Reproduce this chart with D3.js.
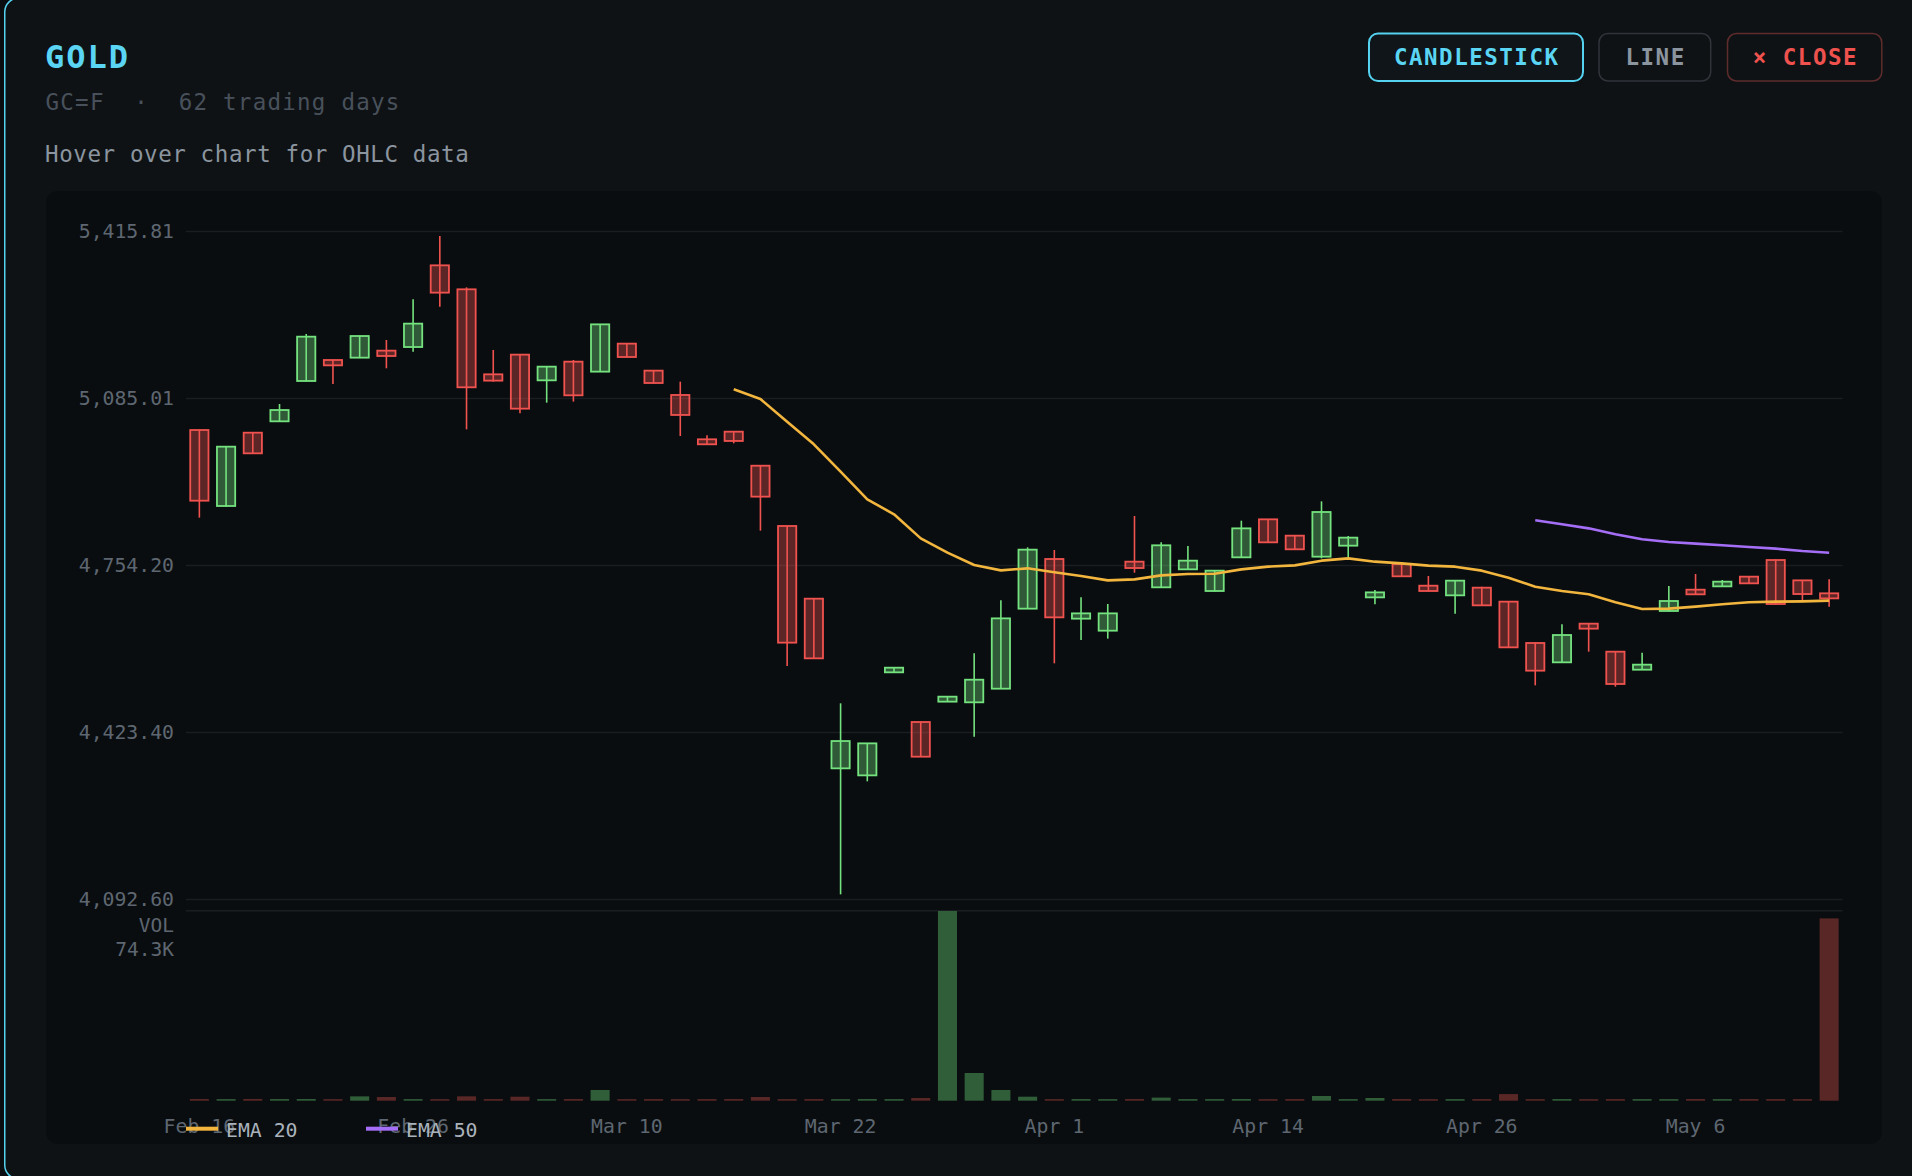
<!DOCTYPE html>
<html><head><meta charset="utf-8">
<script src="https://cdn.jsdelivr.net/npm/d3@7"></script>
<style>
html,body{margin:0;padding:0;background:#0b0e11;overflow:hidden}
svg{display:block}
text{font-family:"DejaVu Sans Mono",monospace;white-space:pre}
</style>
</head><body>
<svg id="c" width="1912" height="1176"></svg>
<script>
// ---------- DATA ----------
const dates = ["Feb 16","Feb 17","Feb 18","Feb 19","Feb 20","Feb 23","Feb 24","Feb 25","Feb 26","Feb 27",
  "Mar 2","Mar 3","Mar 4","Mar 5","Mar 6","Mar 9","Mar 10","Mar 11","Mar 12","Mar 13",
  "Mar 16","Mar 17","Mar 18","Mar 20","Mar 22","Mar 23","Mar 24","Mar 25","Mar 26","Mar 27",
  "Mar 30","Mar 31","Apr 1","Apr 2","Apr 6","Apr 7","Apr 8","Apr 9","Apr 10","Apr 13",
  "Apr 14","Apr 15","Apr 16","Apr 17","Apr 20","Apr 21","Apr 22","Apr 24","Apr 26","Apr 27",
  "Apr 28","Apr 29","Apr 30","May 1","May 4","May 5","May 6","May 7","May 8","May 11",
  "May 12","May 13"];
const open  = [5021.6,4871.1,5016.3,5038.8,5118.7,5160.3,5164.9,5178.8,5186.0,5347.8,
  5300.3,5131.9,5170.9,5120.0,5157.0,5137.2,5192.7,5139.2,5091.0,5003.2,
  5018.3,4950.9,4831.5,4687.5,4351.4,4337.5,4541.6,4443.2,4483.5,4482.2,
  4509.2,4667.7,4766.1,4647.9,4624.1,4760.8,4710.0,4745.6,4702.7,4769.4,
  4844.7,4812.3,4770.7,4792.5,4690.1,4756.2,4713.2,4694.1,4709.3,4681.6,
  4599.7,4561.4,4638.0,4582.5,4546.8,4663.1,4705.3,4711.9,4731.1,4764.1,
  4723.8,4698.1];
const high  = [5022.5,4989.5,5017.0,5073.1,5211.8,5161.0,5208.5,5199.9,5280.5,5405.9,
  5304.2,5180.1,5172.0,5147.8,5160.3,5231.6,5193.4,5139.9,5117.4,5011.1,
  5019.0,4951.6,4832.2,4688.2,4480.2,4401.6,4551.5,4443.9,4494.1,4579.2,
  4684.2,4789.2,4783.9,4690.1,4676.9,4851.3,4799.1,4791.9,4743.7,4842.0,
  4845.4,4813.0,4880.3,4811.6,4704.7,4756.9,4732.4,4723.9,4711.3,4682.3,
  4601.0,4636.6,4638.7,4583.2,4580.5,4712.6,4736.4,4724.5,4731.8,4765.4,
  4724.5,4725.8];
const low   = [4848.0,4869.8,4975.0,5038.0,5118.0,5112.8,5164.0,5143.8,5176.8,5265.9,
  5022.9,5117.4,5054.6,5075.8,5077.8,5136.5,5165.5,5114.0,5009.8,4992.6,
  4995.2,4822.2,4554.1,4568.6,4101.8,4325.7,4540.9,4373.8,4482.8,4414.2,
  4508.5,4667.0,4559.4,4605.6,4608.3,4739.0,4709.3,4744.9,4702.0,4768.7,
  4798.4,4784.6,4767.4,4769.4,4676.3,4731.1,4702.0,4657.8,4673.6,4590.4,
  4515.8,4560.7,4582.5,4513.2,4546.1,4662.4,4695.4,4711.2,4717.2,4676.2,
  4682.9,4671.6];
const close = [4881.6,4988.6,4975.4,5061.2,5206.5,5149.7,5207.8,5168.2,5232.3,5293.7,
  5106.2,5119.4,5063.9,5147.1,5090.3,5230.9,5166.2,5114.7,5051.4,4993.3,
  4999.9,4889.6,4600.4,4569.3,4405.5,4400.9,4550.8,4374.5,4493.4,4527.0,
  4648.5,4784.6,4650.5,4658.4,4658.4,4748.2,4793.2,4762.8,4743.0,4826.8,
  4799.1,4785.3,4859.2,4808.4,4700.0,4731.8,4702.7,4723.2,4674.3,4591.1,
  4544.9,4615.5,4628.1,4518.5,4556.8,4682.9,4696.1,4721.2,4717.9,4676.9,
  4696.7,4688.1];
const volume = [650,620,680,640,660,610,1700,1450,630,600,
  1700,640,1570,620,650,4200,610,640,600,630,
  650,1450,620,640,600,660,630,1060,74300,10850,
  4200,1570,620,640,610,650,1200,630,620,660,
  600,640,1840,620,1060,650,610,630,640,2600,
  620,650,600,640,630,610,660,620,650,630,
  640,71400];
const ema20 = [null,null,null,null,null,null,null,null,null,null,
  null,null,null,null,null,null,null,null,null,null,
  5102.2,5083.0,5038.1,4993.2,4939.1,4884.3,4854.6,4807.0,4778.6,4754.2,
  4743.6,4747.6,4739.7,4732.4,4723.8,4725.8,4733.7,4736.4,4737.0,4745.6,
  4750.9,4753.5,4762.8,4767.4,4760.8,4757.5,4752.9,4750.9,4743.0,4729.1,
  4711.3,4702.7,4696.1,4680.3,4667.0,4667.7,4671.7,4676.3,4680.3,4681.6,
  4682.2,4683.6];
const ema50 = [null,null,null,null,null,null,null,null,null,null,
  null,null,null,null,null,null,null,null,null,null,
  null,null,null,null,null,null,null,null,null,null,
  null,null,null,null,null,null,null,null,null,null,
  null,null,null,null,null,null,null,null,null,null,
  4842.7,4834.8,4826.8,4815.0,4805.1,4799.8,4796.5,4793.2,4789.9,4786.6,
  4782.0,4778.6];
const priceTicks = [4092.60, 4423.40, 4754.20, 5085.01, 5415.81];
const xTickLabels = ["Feb 16","Feb 26","Mar 10","Mar 22","Apr 1","Apr 14","Apr 26","May 6"];
const legendItems = [{name:"EMA 20", color:"#f2b63f"},{name:"EMA 50", color:"#a56ef7"}];

// ---------- STYLE ----------
const C = {
  card:"#0f1215", cardBorder:"#55d2ef", panel:"#0a0d0f", grid:"#1a1e22",
  axis:"#5e6771", up:"#74e27f", down:"#f0534f",
  upFill:"rgba(116,226,127,0.36)", downFill:"rgba(240,83,79,0.36)",
  upVol:"#2f5e39", downVol:"#5a2727"
};
const svg = d3.select("#c");

// card + panel
svg.append("rect").attr("x",4.75).attr("y",-2).attr("width",1940).attr("height",1181)
  .attr("rx",14).attr("fill",C.card).attr("stroke",C.cardBorder).attr("stroke-width",1.5);
svg.append("rect").attr("x",46).attr("y",191).attr("width",1836).attr("height",953)
  .attr("rx",12).attr("fill",C.panel);

// header
svg.append("text").attr("x",45).attr("y",68.3).text("GOLD")
  .attr("font-size",32).attr("font-weight","bold").attr("letter-spacing",2).attr("fill","#5ad5f3");
svg.append("text").attr("x",45.5).attr("y",110).attr("xml:space","preserve")
  .text("GC=F  ·  " + dates.length + " trading days")
  .attr("font-size",22.5).attr("letter-spacing",1.25).attr("fill","#48515b");
svg.append("text").attr("x",45).attr("y",162.3).text("Hover over chart for OHLC data")
  .attr("font-size",22.5).attr("letter-spacing",0.6).attr("fill","#8b959f");

// buttons
const buttons = [
  {label:"CANDLESTICK", x:1369, w:214, stroke:"#55d2ef", sw:2, color:"#5ad5f3", fill:"#0f1518"},
  {label:"LINE", x:1599, w:111.7, stroke:"#30353b", sw:1.5, color:"#8b959f", fill:"#0f1215"},
  {label:"× CLOSE", x:1727.5, w:154.3, stroke:"#5e2c2c", sw:1.5, color:"#ef524e", fill:"#0f1215"}
];
const bg = svg.append("g").selectAll("g").data(buttons).join("g");
bg.append("rect").attr("x",d=>d.x).attr("y",33.5).attr("width",d=>d.w).attr("height",47.5)
  .attr("rx",9).attr("fill",d=>d.fill).attr("stroke",d=>d.stroke).attr("stroke-width",d=>d.sw);
bg.append("text").attr("x",d=>d.x+d.w/2+0.75).attr("y",65).attr("text-anchor","middle")
  .attr("font-size",22.5).attr("font-weight","bold").attr("letter-spacing",1.5)
  .attr("fill",d=>d.color).text(d=>d.label);

// scales
const x0 = 186, x1 = 1842.5;
const x = d3.scaleBand().domain(dates).range([x0,x1]).paddingInner(0.25).paddingOuter(0.125);
const y = d3.scaleLinear().domain([priceTicks[0], priceTicks[priceTicks.length-1]]).range([899,231]);
const yv = d3.scaleLinear().domain([0, d3.max(volume)]).range([1100.7, 911]);

// y axis with grid
const ya = svg.append("g").attr("transform",`translate(${x0},0)`)
  .call(d3.axisLeft(y).tickValues(priceTicks).tickFormat(d3.format(",.2f")).tickSize(-(x1-x0)).tickPadding(12));
ya.select(".domain").remove();
ya.selectAll(".tick line").attr("stroke",C.grid).attr("stroke-width",1.5);
ya.selectAll(".tick text").attr("fill",C.axis).attr("font-size",19.8)
  .attr("font-family","DejaVu Sans Mono").attr("dy","0.33em");

// volume separator
svg.append("line").attr("x1",x0).attr("x2",x1).attr("y1",910.7).attr("y2",910.7)
  .attr("stroke",C.grid).attr("stroke-width",1.5);

// x axis
const xa = svg.append("g").attr("transform","translate(0,1110)")
  .call(d3.axisBottom(x).tickValues(xTickLabels).tickSize(0).tickPadding(0));
xa.select(".domain").remove();
xa.selectAll(".tick text").attr("fill",C.axis).attr("font-size",19.8)
  .attr("font-family","DejaVu Sans Mono").attr("y",23.3).attr("dy",null);

// volume labels
svg.append("text").attr("x",174).attr("y",931.7).attr("text-anchor","end").text("VOL")
  .attr("font-size",19.5).attr("fill",C.axis);
svg.append("text").attr("x",174).attr("y",956).attr("text-anchor","end")
  .text(d3.format(".1f")(d3.max(volume)/1000)+"K").attr("font-size",19.5).attr("fill",C.axis);

const idx = d3.range(dates.length);
const isUp = i => close[i] >= open[i];

// volume bars
svg.append("g").selectAll("rect").data(idx).join("rect")
  .attr("x",i=>x(dates[i])+0.5).attr("width",x.bandwidth()-1)
  .attr("y",i=>yv(volume[i])).attr("height",i=>yv(0)-yv(volume[i]))
  .attr("fill",i=>isUp(i)?C.upVol:C.downVol);

// candles
const cg = svg.append("g").selectAll("g").data(idx).join("g");
cg.append("rect")
  .attr("x",i=>x(dates[i])+0.9).attr("width",x.bandwidth()-1.8)
  .attr("y",i=>y(Math.max(open[i],close[i])))
  .attr("height",i=>Math.max(1,Math.abs(y(open[i])-y(close[i]))))
  .attr("fill",i=>isUp(i)?C.upFill:C.downFill)
  .attr("stroke",i=>isUp(i)?C.up:C.down).attr("stroke-width",1.8);
cg.append("line")
  .attr("x1",i=>x(dates[i])+x.bandwidth()/2).attr("x2",i=>x(dates[i])+x.bandwidth()/2)
  .attr("y1",i=>y(high[i])).attr("y2",i=>y(low[i]))
  .attr("stroke",i=>isUp(i)?C.up:C.down).attr("stroke-width",1.6);

// EMA lines
const line = s => d3.line().defined(i=>s[i]!=null)
  .x(i=>x(dates[i])+x.bandwidth()/2).y(i=>y(s[i]));
svg.append("path").datum(idx).attr("d",line(ema20)).attr("fill","none")
  .attr("stroke",legendItems[0].color).attr("stroke-width",2.6).attr("stroke-linejoin","round");
svg.append("path").datum(idx).attr("d",line(ema50)).attr("fill","none")
  .attr("stroke",legendItems[1].color).attr("stroke-width",2.6).attr("stroke-linejoin","round");

// legend
const lg = svg.append("g").selectAll("g").data(legendItems).join("g")
  .attr("transform",(d,i)=>`translate(${186+i*180},0)`);
lg.append("line").attr("x1",0).attr("x2",32).attr("y1",1128.7).attr("y2",1128.7)
  .attr("stroke",d=>d.color).attr("stroke-width",4);
lg.append("text").attr("x",40).attr("y",1137.3).text(d=>d.name)
  .attr("font-size",19.8).attr("fill","#aab3bc");
</script>
</body></html>
